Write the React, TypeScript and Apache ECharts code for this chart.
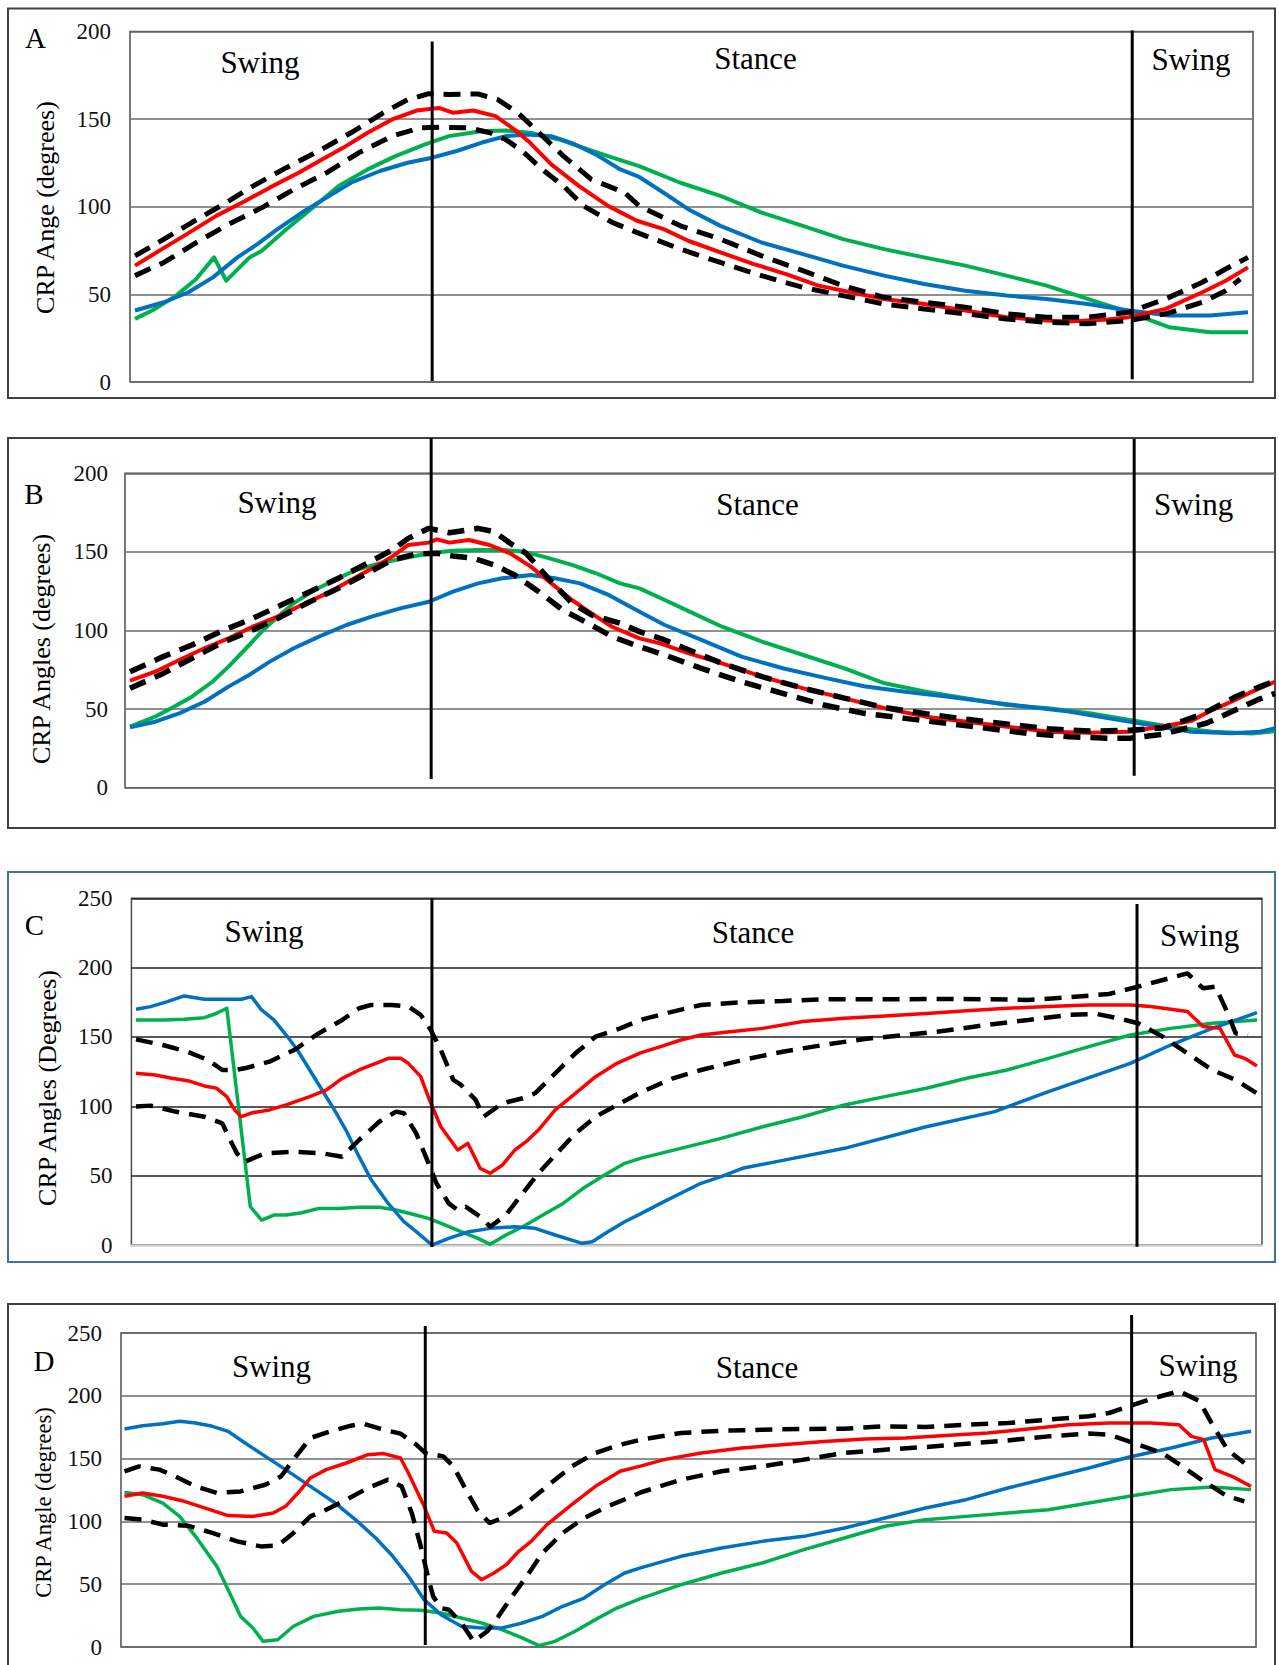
import React, { useEffect, useRef } from "react";
import * as echarts from "echarts";

type P = [number, number][];

const panelLetters = ["A", "B", "C", "D"];
const yTitles = ["CRP Ange (degrees)", "CRP Angles (degrees)", "CRP Angles (Degrees)", "CRP Angle (degrees)"];
const phaseLabels = ["Swing", "Stance", "Swing"];
const yMaxes = [200, 200, 250, 250];
const yInterval = 50;

// phase boundaries (% gait cycle)
const A_phase = [26.7, 89.6];
const B_phase = [26.3, 87.7];
const C_phase = [26.4, 89.3];
const D_phase = [26.7, 89.4];

// ---------- Panel A ----------
const A_red: P = [[0,66.4],[2.9,77.7],[4.4,83.4],[7.3,94.8],[9.9,103.3],[12.1,110.9],[14.7,119.4],[16.8,127],[18.7,133.6],[20.9,142.2],[23.1,149.8],[25.3,154.9],[27.3,156.4],[28.6,153.6],[30.4,154.9],[32.4,151.7],[34.1,144],[35.5,136.5],[37.4,124.2],[39.9,111.8],[42.5,100.5],[45.1,92],[47.5,87.2],[49.7,80.6],[52.6,73.9],[55.6,67.3],[58.5,61.6],[61.4,55],[64.3,51.2],[67.3,47.4],[70.9,44.5],[74.6,40.8],[78.3,37],[81.9,35.1],[83.8,34.5],[85.6,35.1],[87.4,35.6],[89.3,37],[92.6,41.7],[95.9,51.2],[98,57.8],[100,65.4]];
const A_upper: P = [[0,72],[2.6,81.5],[5.1,91],[7.7,100.5],[10.6,111.8],[13.6,122.3],[16.5,131.8],[19.4,142.2],[22.3,153.6],[24.5,161.1],[26.4,164.5],[28.2,164],[30.8,164.4],[32.6,161.1],[34.4,153.6],[36.3,142.2],[38.5,128.9],[41,115.6],[44,108],[45.3,100.5],[49,89.1],[52.6,81.5],[56.3,72],[60,63.5],[63.6,55],[67.3,48.3],[70.9,45.5],[74.6,42.7],[78.3,38.9],[81.9,37],[85.6,37],[89.3,39.8],[92.6,47.4],[95.9,56.9],[98,64.5],[100,71.1]];
const A_lower: P = [[0,60.7],[2.6,68.2],[5.5,79.6],[8.4,90],[11.4,99.5],[14.3,110],[17.2,119.4],[20.1,130.8],[23.1,140.3],[25.6,145],[27.5,145.4],[30,145],[31.9,142.2],[33.3,138.4],[34.8,131.8],[36.6,121.3],[38.5,111.8],[40.3,100.5],[42.9,91],[45.3,84.8],[49,75.8],[52.6,68.2],[56.3,60.7],[60,54],[63.6,49.3],[67.3,44.5],[70.9,41.7],[74.6,38.9],[78.3,36],[81.9,34.1],[85.6,33.2],[89.3,35.1],[92.6,38.9],[95.9,45.5],[98,52.1],[99.3,58.8]];
const A_green: P = [[0,36],[1.8,41.7],[3.7,49.3],[5.5,58.8],[7.1,71.1],[8.2,57.8],[10.3,71.1],[11.4,74.9],[13.6,87.2],[15.8,98.6],[18.3,111.8],[20.9,121.3],[23.4,128.9],[26,135.5],[28.2,140.3],[31.1,143.1],[33.3,143.5],[35.5,142.2],[38.1,138.4],[40.3,133.6],[42.5,128.9],[45.3,123.2],[49,113.7],[52.6,106.2],[56.3,96.7],[60,89.1],[63.6,81.5],[67.3,75.8],[70.9,71.1],[74.6,66.4],[78.3,60.7],[81.9,55],[85.6,47.4],[89.3,39.8],[92.9,31.3],[96.6,28.4],[100,28.4]];
const A_blue: P = [[0,40.8],[2.6,45.5],[4.8,51.2],[7,59.7],[9.2,71.1],[11,78.7],[12.8,87.2],[15,96.7],[17.2,105.2],[19.4,113.7],[22,120.4],[24.5,125.1],[26.7,128],[28.9,131.8],[31.1,136.5],[33.3,140.3],[35.2,141.2],[37.4,140.3],[39.2,136.5],[41.4,129.9],[43.6,121.3],[45.3,117],[47.5,108],[49.7,98.6],[52.6,89.1],[56.3,79.6],[60,73],[63.6,66.4],[67.3,60.7],[70.9,55.9],[74.6,52.1],[78.3,49.3],[81.9,47.4],[85.6,44.5],[89.3,40.8],[92.9,37.9],[96.6,37.9],[100,39.8]];

// ---------- Panel B ----------
const B_red: P = [[0,68.1],[2.2,73.8],[4.3,81.2],[6.5,88.7],[8.6,95],[10.7,102.4],[12.9,108.8],[15,116.2],[17.2,123.6],[19.3,132.1],[21.4,140.6],[22.9,147],[24.3,154.4],[26.1,155.9],[26.8,158],[27.9,155.9],[29.6,157.6],[31.4,154.4],[33.2,149.1],[35,140.6],[36.8,130],[38.6,119.4],[40.3,110.9],[42.1,102.4],[44.5,95],[46.3,91.8],[48.8,85.5],[51.7,79.1],[55.2,70.6],[58.8,63.2],[62.4,56.8],[65.9,50.5],[69.5,45.2],[73.1,42],[76.6,38.8],[80.2,35.6],[83.8,35],[87.3,35.6],[90.9,39.9],[92.7,42.5],[94.5,49.4],[96.2,54.7],[98,61.1],[100,67.4]];
const B_upper: P = [[0,73.8],[2.9,83.4],[5.4,90.8],[7.9,99.3],[10.7,107.7],[13.2,116.2],[15.7,124.7],[18.2,133.2],[20.7,142.7],[22.9,151.2],[24.3,158.6],[26.1,165],[27.9,162.2],[30.4,165],[31.8,162.9],[33.2,155.5],[34.6,149.1],[36.4,134.3],[38.6,117.3],[40.3,109.9],[42.8,104.6],[44.5,99.3],[46.7,94],[49.2,86.5],[51.7,79.1],[55.2,70.6],[58.8,63.2],[62.4,57],[65.9,51],[69.5,47],[73.1,43.5],[76.6,40.5],[80.2,37.5],[83.8,36],[87.3,36.5],[90.2,38],[93.7,47],[96.6,58],[98.7,64.3],[100,68]];
const B_lower: P = [[0,63.2],[2.9,72.7],[5.4,82.3],[7.9,91.8],[10.7,100.3],[13.2,108.8],[15.7,118.3],[18.2,126.8],[20.7,136.4],[22.9,144.9],[25,148.7],[26.8,149.1],[28.2,147.4],[30,145.9],[31.8,141.7],[33.6,135.3],[35.7,124.7],[37.8,113],[40,104.6],[42.1,96.1],[44.5,89.7],[46.7,84.4],[49.9,75.9],[53.4,67.4],[57,60],[60.6,52.6],[64.1,47.3],[67.7,44.1],[71.3,40.9],[74.8,37.8],[78.4,34.6],[82,32.4],[85.5,31.4],[87.3,31.5],[90.2,34],[94,41],[98.5,56],[100,60]];
const B_green: P = [[0,38.8],[2.2,45.2],[3.6,50.5],[5.4,57.9],[7.2,67.4],[8.6,77],[10,87.6],[11.5,99.3],[12.9,108.8],[14.3,117.3],[16.1,125.8],[17.9,132.1],[19.7,138.5],[21.8,142.7],[23.9,145.9],[26.1,149.1],[28.2,150.8],[30.4,151.2],[32.5,151.2],[34.3,150.2],[36.1,147],[38.6,141.7],[40.7,136.4],[42.8,130],[44.5,126.8],[46.7,119.4],[49.2,110.9],[51.7,102.4],[55.2,92.9],[58.8,84.4],[62.4,75.9],[65.9,66.4],[69.5,61.1],[73.1,56.8],[76.6,52.6],[80.2,50.5],[83.8,47.3],[87.3,43.1],[90.9,38.8],[94.5,35.6],[98,34.5],[100,36]];
const B_blue: P = [[0,38.4],[2.2,42],[4.3,47.3],[6.5,54.7],[8.6,64.3],[10.4,71.7],[12.2,80.2],[14.3,88.7],[16.5,96.1],[18.9,103.5],[21.1,108.8],[23.6,114.1],[26.1,118.3],[28.2,124.7],[30.4,130],[32.5,133.2],[35,135.3],[37.1,133.2],[39.3,130],[41.8,122.6],[44.5,112],[46.7,103.5],[49.9,94],[53.4,83.4],[57,76],[60.6,70],[64.1,64.5],[67.7,61],[71.3,58],[74.8,54.7],[78.4,51.5],[82,48.4],[85.5,44.1],[89.1,39.9],[92.7,35.6],[96.2,34.6],[98.7,35.6],[100,37.8]];

// ---------- Panel C ----------
const C_red: P = [[0,123.8],[1.7,122.6],[3.2,120.2],[4.6,118.5],[6.1,114.7],[7.2,113],[8.1,107],[8.8,97.4],[9.4,92.5],[10.4,95.4],[11.9,97.4],[13.4,101],[15.5,107],[17,111.8],[18.4,120.2],[19.9,126.2],[21.4,131],[22.5,134.6],[23.6,134.6],[24.3,131],[25.4,121.4],[26.3,102.2],[27.2,85.3],[28.7,68.5],[29.6,73.3],[30.7,55.3],[31.6,51.7],[32.7,57.7],[33.8,68.5],[34.8,74.5],[35.9,82.9],[37.4,97.4],[39.2,109.4],[41,121.4],[42.9,131],[45,138.5],[46.8,143],[48.6,147.8],[50.4,151.4],[53,153.8],[55.9,156.2],[59.5,161.1],[63.2,163.5],[66.8,165.1],[70.5,167],[74.1,169],[77.7,170.7],[81.4,171.9],[85,173.1],[88.7,173.1],[90.5,171.9],[93.8,168.3],[95.2,157.5],[96.7,156.2],[98,137],[98.9,134.6],[100,129.1]];
const C_upper: P = [[0,148.3],[2.4,144.2],[4.6,139.4],[6.4,133.4],[7.7,126.2],[8.8,126.2],[9.7,127.4],[11.9,132.2],[14.1,140.6],[16.3,152.6],[18.4,162.3],[19.9,170.7],[21,173.1],[22.8,173.1],[24.3,171.9],[25.4,165.9],[26.3,155],[27.2,140.6],[28.3,119],[29,115.4],[30.3,104.6],[31,92.5],[32.7,102.2],[34.5,105.8],[35.6,109.4],[37.4,123.8],[39.2,138.2],[41,150.2],[43.2,156.2],[45,162.3],[47.9,168.3],[50.4,173.1],[54.1,175],[57.7,176],[61.3,177.2],[65,177.2],[68.6,177.2],[72.3,177.4],[75.9,177.2],[79.6,176.7],[83.2,178.6],[86.8,181],[89.4,186.3],[91.6,191.1],[93.8,195.9],[95.2,185.1],[96.3,186.3],[97.4,167],[98.1,152.6],[99.2,151.4]];
const C_lower: P = [[0,99.8],[1.3,100.5],[3.5,96.2],[6.1,92.5],[7.7,87.7],[8.4,75.7],[9,66.1],[9.7,60.1],[11.5,66.1],[14.1,67.3],[16.6,66.1],[18.4,63.7],[19.9,75.7],[21.7,88.9],[23.2,96.2],[23.9,95],[25,80.5],[26.1,58.9],[26.8,44.5],[27.9,30],[28.7,25.2],[29.4,27.6],[30.7,20.4],[31.6,13.2],[33,21.6],[34.5,37.3],[35.9,51.7],[37.4,64.9],[39.2,80.5],[41,92.5],[43.2,102.2],[45,110],[47.9,120.2],[50.4,126.2],[54.1,133.4],[57.7,139.4],[61.3,144.2],[65,148.6],[68.6,151.4],[72.3,154.6],[75.9,158.7],[79.6,162.3],[83.2,165.9],[85.7,166.6],[87.6,163.5],[89.4,159.9],[91.6,150.2],[93.8,138.2],[96,126.2],[98.1,119],[100,109.4]];
const C_green: P = [[0,162.3],[2.4,162.3],[4.3,162.7],[6.1,163.9],[7.2,167.1],[8.1,170.7],[10.2,27.6],[11.2,18],[12.3,21.6],[13.4,21.6],[14.8,23.3],[16.3,26.4],[18.1,26.4],[19.9,27.2],[21.7,27.2],[23.2,25.2],[24.6,22.4],[26.1,19.2],[27.6,14.4],[29,9.6],[30.5,4.8],[31.6,0.5],[33,7.2],[34.5,13.2],[36.3,21.6],[38.1,30],[39.9,40.9],[41.8,50.5],[43.6,58.9],[45,62.5],[48.6,69.7],[52.2,76.9],[55.9,85.3],[59.5,92.5],[63.2,101],[66.8,107],[70.5,113],[74.1,120.2],[77.7,126.2],[81.4,134.6],[85,143],[88.7,151.4],[92.3,156.2],[96,159.9],[100,162.3]];
const C_blue: P = [[0,170],[1.3,171.9],[2.8,175.5],[4.3,179.6],[6.1,177.2],[7.9,177.2],[9.4,177.2],[10.3,179.1],[11.2,169.5],[12.3,162.3],[13.4,151.4],[14.4,140.6],[15.5,126.2],[16.6,111.8],[17.7,97.4],[18.8,81.7],[19.9,63.7],[21,46.9],[22.5,30],[23.9,16.8],[25,9.6],[26.4,0],[27.9,4.8],[29.7,9.6],[31.6,12],[33.8,13.2],[35.6,12],[37.4,7.2],[39.8,1.2],[40.7,2.4],[42.1,9.6],[43.6,16.8],[45,22.4],[46.8,30],[48.6,37.3],[50.4,44.5],[52.2,49.3],[54.1,55.3],[57.7,61],[63.2,69.7],[70.5,85.3],[76.6,96.2],[81.4,110.6],[88.7,131],[92.3,144.2],[96,156.2],[100,167.5]];

// ---------- Panel D ----------
const D_red: P = [[0,120],[1.6,122.6],[3.4,120],[5.3,116],[7.1,110.7],[9.2,104.6],[11.4,104],[13.2,106.7],[14.3,112],[15.4,122.6],[16.5,134.6],[17.9,141.2],[19.7,146.5],[21.6,153.1],[23,154],[24.5,150.5],[25.2,138.5],[26.6,112],[27.5,92.1],[28.6,90.8],[29.5,82.8],[30.8,60.2],[31.7,53.6],[32.8,58.9],[33.9,65.6],[35,76.2],[36.1,84.1],[37.5,97.4],[39.7,113.3],[41.8,127.9],[44,139.9],[45.8,144],[47.9,149.2],[51.2,154.5],[54.8,158.4],[58.4,161.1],[62.1,163.7],[65.7,165.6],[69.3,166.4],[72.9,168.3],[76.6,170.4],[80.2,173.6],[83.8,177],[87.4,178.3],[91.1,178.3],[93.6,177],[94.7,167.7],[95.8,165.1],[96.8,141.2],[98.3,135.9],[100,127.9]];
const D_upper: P = [[0,139.9],[1.3,143.8],[3.1,141.2],[4.5,135.9],[6.3,127.9],[8.2,122.6],[10.3,123.9],[12.5,129.2],[13.9,135.9],[15,149.2],[16.5,166.4],[18.3,171.7],[20.1,176.2],[21.2,177.8],[23,173],[24.5,169.9],[25.9,161.1],[26.7,154.5],[28.3,151.8],[29.2,143.8],[30.3,125.3],[31.3,109.3],[32.4,98.7],[33.9,104],[35.7,114.6],[37.5,127.9],[39.7,143.8],[41.8,154.5],[44,161.1],[45.8,165],[49.4,170.4],[53,172.2],[56.6,173],[60.3,173.6],[63.9,173.8],[67.5,175.7],[71.1,175.2],[74.7,177],[78.4,178.3],[82,181],[85.6,183.7],[87.4,186.3],[89.6,192.9],[91.4,198.2],[93.6,203.6],[95.4,196],[96.5,178.3],[97.9,157.1],[99.4,146.5]];
const D_lower: P = [[0,102.7],[1.6,101.4],[3.4,97.4],[5.6,96.6],[7.8,90.8],[10,84.1],[12.1,80.1],[13.6,80.7],[15,90.8],[16.5,104],[17.9,109.3],[19.7,117.3],[21.6,126.6],[23.4,133.2],[24.6,127.9],[25.5,106.7],[26.3,80.1],[27,53.6],[27.4,40.3],[28.1,31],[28.8,29.7],[29.9,19.1],[31,4.5],[32.2,12.5],[33.2,24.4],[34.2,37.7],[35.7,56.3],[37.1,74.8],[38.9,90.8],[40.8,102.7],[42.9,112],[44.7,118.6],[45.8,123],[49.4,133.2],[53,139.9],[56.6,143.8],[60.3,149.2],[63.9,154.5],[67.5,157.1],[71.1,159.2],[74.7,161.8],[78.4,164.5],[82,167.7],[85.6,169.9],[87.4,169.1],[89.6,162.4],[92.1,154.5],[93.9,143.8],[95.8,131.9],[97.9,120],[99.4,116]];
const D_green: P = [[0,123.1],[1.6,121.3],[3.4,114.6],[4.9,104],[6.3,88.1],[8.2,64.2],[9.2,45.6],[10.3,24.4],[11.4,15.1],[12.3,4.5],[13.6,5.8],[15,16.5],[16.8,24.4],[19,28.4],[20.8,30.3],[22.6,31],[24.5,29.7],[26.3,29.2],[28.1,27.1],[29.9,23.1],[31.7,19.1],[33.5,13.8],[35.3,7.2],[36.8,1.1],[38.2,4.5],[40,12.5],[41.8,21.8],[43.7,31],[45.8,38.5],[49.4,49.6],[53,58.9],[56.6,66.9],[60.3,77.5],[63.9,86.8],[67.5,96.1],[71.1,101.4],[74.7,104],[78.4,106.7],[82,109.3],[85.6,114.6],[89.2,120],[92.9,125.3],[96.5,127.4],[100,125.3]];
const D_blue: P = [[0,173.6],[1.6,176.2],[3.4,177.8],[4.9,179.7],[6.3,178.3],[7.8,175.7],[9.2,171.7],[10.7,162.4],[12.5,151.8],[14.3,141.2],[16.5,127.9],[18.7,114.6],[20.5,101.4],[22.3,86.8],[23.7,73.5],[25.2,56.3],[26.6,37.7],[28.1,25.7],[29.9,16.5],[31.7,15.1],[33.5,15.1],[35.3,19.1],[37.1,24.4],[38.9,32.4],[40.8,39],[42.6,49.6],[44.4,58.9],[45.8,63],[49.4,72.2],[53,78.8],[56.6,84.1],[60.3,88.1],[63.9,94.7],[67.5,102.7],[71.1,110.7],[74.7,117.3],[78.4,126.6],[82,134.6],[85.6,142.5],[89.2,151.3],[92.9,158.4],[96.5,166.4],[100,171.7]];

const seriesData = [
  { red: A_red, green: A_green, blue: A_blue, upper: A_upper, lower: A_lower, phase: A_phase },
  { red: B_red, green: B_green, blue: B_blue, upper: B_upper, lower: B_lower, phase: B_phase },
  { red: C_red, green: C_green, blue: C_blue, upper: C_upper, lower: C_lower, phase: C_phase },
  { red: D_red, green: D_green, blue: D_blue, upper: D_upper, lower: D_lower, phase: D_phase },
];

// layout (pixels / styles)
const layouts = [
  { grid: { left: 130, top: 31.5, width: 1123, height: 350.5 }, xMin: -0.45, xMax: 100.45, box: { y: 8.5, h: 389.5, stroke: "#404040" }, letter: [35.5, 37.5], title: [45, 207.5, 26], labels: [[260, 62], [755.5, 58], [1191, 59.5]], vspan: [[194.3, 0.5], [200.6, 1.5]], lw: 4, dw: 5, margin: 19, grey0: false },
  { grid: { left: 125, top: 473.3, width: 1150, height: 314.4 }, xMin: -0.44, xMax: 100.0, box: { y: 438, h: 390, stroke: "#404040" }, letter: [34, 494], title: [41, 649, 26], labels: [[277, 502.5], [757.5, 504.7], [1193.6, 504]], vspan: [[222.5, 5.5], [221.8, 7.6]], lw: 4, dw: 5.5, margin: 17, grey0: false },
  { grid: { left: 131.4, top: 898.3, width: 1130.6, height: 346.7 }, xMin: -0.41, xMax: 100.45, box: { y: 872, h: 390, stroke: "#41719c" }, letter: [34.3, 925], title: [47, 1088, 26], labels: [[264, 931], [753, 932.5], [1199.6, 935]], vspan: [[250.2, -1.4], [245.9, -1.2]], lw: 3.5, dw: 4.5, margin: 19, grey0: true },
  { grid: { left: 121, top: 1333, width: 1135, height: 314 }, xMin: -0.31, xMax: 100.44, box: { y: 1304, h: 400, stroke: "#404040" }, letter: [44, 1361], title: [43, 1502.5, 22.5], labels: [[271.5, 1366], [757, 1367.5], [1198, 1365]], vspan: [[255.6, 1.6], [264.3, -0.6]], lw: 3.5, dw: 4.5, margin: 19, grey0: false },
];

const FONT = '"Liberation Serif", "Times New Roman", serif';

function buildOption() {
  const grid: any[] = [];
  const xAxis: any[] = [];
  const yAxis: any[] = [];
  const series: any[] = [];
  const graphic: any[] = [];

  layouts.forEach((L, i) => {
    const D = seriesData[i];
    graphic.push({
      type: "rect", z: -10,
      shape: { x: 8, y: L.box.y, width: 1267, height: L.box.h },
      style: { fill: "#fff", stroke: L.box.stroke, lineWidth: 2 },
    });
    grid.push({
      ...L.grid, show: true, backgroundColor: "transparent",
      borderColor: "#4d4d4d", borderWidth: 1.5,
    });
    xAxis.push({
      type: "value", gridIndex: i, min: L.xMin, max: L.xMax,
      axisLabel: { show: false }, axisTick: { show: false }, splitLine: { show: false },
      axisLine: { show: L.grey0, onZero: false, lineStyle: { color: "#cfcfcf", width: 2.5 } },
    });
    yAxis.push({
      type: "value", gridIndex: i, min: 0, max: yMaxes[i], interval: yInterval,
      axisLine: { show: false }, axisTick: { show: false },
      splitLine: { show: true, lineStyle: { color: i === 2 ? "#222" : "#6b6b6b", width: 1.5 } },
      axisLabel: { fontFamily: FONT, fontSize: 23, color: "#111", margin: L.margin },
    });
    const solid = (name: string, data: P, color: string) => ({
      name, type: "line", xAxisIndex: i, yAxisIndex: i, data, symbol: "none", silent: true,
      lineStyle: { color, width: L.lw, join: "round" },
    });
    const dashed = (name: string, data: P) => ({
      name, type: "line", xAxisIndex: i, yAxisIndex: i, data, symbol: "none", silent: true,
      lineStyle: { color: "#000", width: L.dw, type: [17, 10] },
    });
    series.push(solid(panelLetters[i] + " green", D.green, "#00b050"));
    series.push(solid(panelLetters[i] + " blue", D.blue, "#0070c0"));
    series.push(solid(panelLetters[i] + " red", D.red, "#ff0000"));
    series.push(dashed(panelLetters[i] + " upper", D.upper));
    series.push(dashed(panelLetters[i] + " lower", D.lower));
    D.phase.forEach((px, k) => {
      series.push({
        name: panelLetters[i] + " phase " + k, type: "line", xAxisIndex: i, yAxisIndex: i,
        data: [[px, L.vspan[k][0]], [px, L.vspan[k][1]]], symbol: "none", silent: true, clip: false,
        lineStyle: { color: "#000", width: 3 }, z: 5,
      });
    });
    graphic.push({
      type: "text", x: L.letter[0], y: L.letter[1], z: 10,
      style: { text: panelLetters[i], font: `29px ${FONT}`, fill: "#000", textAlign: "center", textVerticalAlign: "middle" },
    });
    graphic.push({
      type: "text", x: L.title[0], y: L.title[1], rotation: Math.PI / 2, z: 10,
      style: { text: yTitles[i], font: `${L.title[2]}px ${FONT}`, fill: "#000", textAlign: "center", textVerticalAlign: "middle" },
    });
    L.labels.forEach((p, k) => {
      graphic.push({
        type: "text", x: p[0], y: p[1], z: 10,
        style: { text: phaseLabels[k], font: `31px ${FONT}`, fill: "#000", textAlign: "center", textVerticalAlign: "middle" },
      });
    });
  });

  return { animation: false, backgroundColor: "#fff", grid, xAxis, yAxis, series, graphic };
}

export default function App() {
  const ref = useRef<HTMLDivElement>(null);
  useEffect(() => {
    if (!ref.current) return;
    const chart = echarts.init(ref.current, undefined, { renderer: "svg" });
    chart.setOption(buildOption() as any);
    return () => chart.dispose();
  }, []);
  return <div ref={ref} style={{ position: "absolute", left: 0, top: 0, width: 1279, height: 1665 }} />;
}
